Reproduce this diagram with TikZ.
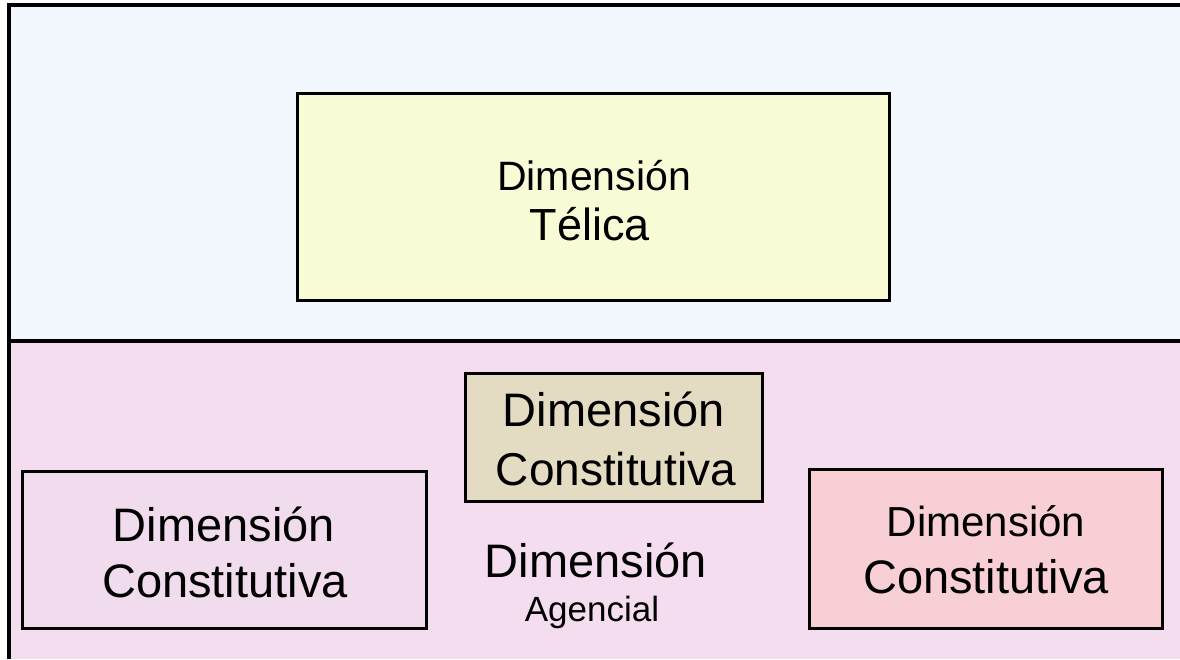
\documentclass[tikz,border=0pt]{standalone}
\usepackage{fontspec}
\setmainfont{Liberation Sans}
\definecolor{topbg}{HTML}{F3F7FE}
\definecolor{botbg}{HTML}{F5DDF0}
\definecolor{telfill}{HTML}{F8FBD5}
\definecolor{cenfill}{HTML}{E3DCC3}
\definecolor{leftfill}{HTML}{F0DCEC}
\definecolor{rightfill}{HTML}{F7CFD4}
\tikzset{
  frame/.style={line width=3.2pt, black},
  dimbox/.style={draw=black, line width=3pt},
  lbl/.style={anchor=base, inner sep=0pt, text=black},
}
\newcommand{\fs}[1]{\fontsize{#1pt}{#1pt}\selectfont}
\begin{document}
\begin{tikzpicture}[x=1pt,y=-1pt]
\useasboundingbox (0,0) rectangle (1180,659);
% backgrounds
\fill[topbg] (9,5) rectangle (1180,341);
\fill[botbg] (9,341) rectangle (1180,659);
% frame lines
\draw[frame] (9,659) -- (9,5) -- (1180,5);
\draw[frame] (9,341) -- (1180,341);
% boxes
\draw[dimbox, fill=telfill] (297,93) rectangle (889,300);
\draw[dimbox, fill=cenfill] (465,373) rectangle (762,501);
\draw[dimbox, fill=leftfill] (22,471) rectangle (426,628);
\draw[dimbox, fill=rightfill] (809,469) rectangle (1162,628);
% texts
\node[lbl] (t1) at (594,190) {\fs{41}Dimensión};
\node[lbl] (t2) at (590,240) {\fs{45}Télica};
\node[lbl] (c1) at (614,426) {\fs{47}Dimensión};
\node[lbl] (c2) at (616,485) {\fs{46}Constitutiva};
\node[lbl] (l1) at (224,541) {\fs{47}Dimensión};
\node[lbl] (l2) at (225,597) {\fs{47}Constitutiva};
\node[lbl] (r1) at (986,536) {\fs{42}Dimensión};
\node[lbl] (r2) at (986,593) {\fs{47}Constitutiva};
\node[lbl] (a1) at (596,577) {\fs{47}Dimensión};
\node[lbl] (a2) at (592,621) {\fs{35}Agencial};
\end{tikzpicture}
\end{document}
